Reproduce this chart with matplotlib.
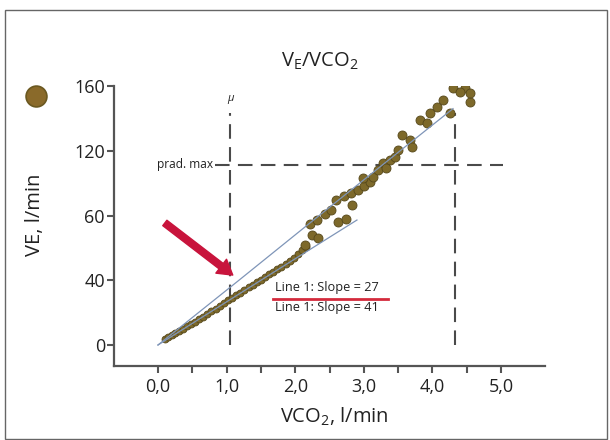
import matplotlib
matplotlib.use("Agg")
import matplotlib.pyplot as plt
from matplotlib.lines import Line2D
from matplotlib.patches import Rectangle
import numpy as np

plt.rcParams['font.family'] = ['Open Sans', 'DejaVu Sans']
plt.rcParams['mathtext.fontset'] = 'custom'
plt.rcParams['mathtext.rm'] = 'Open Sans'
plt.rcParams['mathtext.it'] = 'Open Sans:italic'
plt.rcParams['mathtext.default'] = 'regular'

# measured points, VCO2 (l/min) and VE (l/min)
vco2 = [0.10, 0.15, 0.20, 0.25, 0.30, 0.36, 0.42, 0.48, 0.54, 0.60, 0.66, 0.72,
        0.78, 0.84, 0.90, 0.96, 1.02, 1.08, 1.14, 1.20, 1.26, 1.32, 1.38,
        1.44, 1.50, 1.56, 1.62, 1.68, 1.74, 1.80, 1.86, 1.92, 1.98, 2.04, 2.10, 2.16,
        2.14, 2.24, 2.33, 2.22, 2.32, 2.43, 2.52, 2.62, 2.74, 2.59, 2.71, 2.81,
        2.92, 3.00, 3.09, 2.83,
        2.99, 3.13, 3.28, 3.21, 3.38, 3.45, 3.56, 3.67, 3.70, 3.82, 3.92, 3.97,
        4.07, 3.50, 3.32,
        4.15, 4.26, 4.30, 4.48, 4.55, 4.55, 4.40]
ve = [3.6, 4.8, 6.0, 7.2, 8.4, 10.0, 11.6, 13.2, 14.4, 16.0, 17.6, 19.2,
      20.8, 22.4, 24.0, 26.0, 27.6, 29.2, 30.8, 32.4, 34.0, 35.6, 37.2,
      38.8, 40.2, 41.0, 41.8, 42.6, 43.4, 44.2, 45.0, 46.0, 46.8, 48.0, 49.2, 50.4,
      50.9, 54.0, 53.0, 57.4, 58.6, 61.2, 64.8, 58.0, 59.0, 74.4, 78.0, 81.0,
      83.4, 87.6, 91.2, 69.6,
      94.8, 95.4, 108.6, 102.0, 111.6, 114.0, 129.6, 126.8, 122.4, 138.8, 137.2, 143.2,
      147.2, 120.4, 103.8,
      151.2, 143.2, 158.8, 158.8, 150.0, 155.6, 156.4]
n_dense = 36  # first part of the curve is a tight band

# regression lines (vertices)
fit1_x = [0, 1.18, 2.35, 3.53, 4.3]
fit1_ve = [0, 40, 60, 120, 146]
fit2_x = [0, 1.5, 2.9]
fit2_ve = [0, 40, 58.6]

# thresholds
mu_x = 1.05
max_x = 4.33
vline_top = 143.2
prad_max = 106.8

yticks = [0, 40, 60, 120, 160]
xticks = [0, 0.5, 1, 1.5, 2, 2.5, 3, 3.5, 4, 4.5, 5]
xticklabels = ['0,0', '', '1,0', '', '2,0', '', '3,0', '', '4,0', '', '5,0']

# y axis of the original has evenly spaced ticks 0,40,60,120,160
knots_v = [0, 40, 60, 120, 160]
knots_p = [0, 1, 2, 3, 4]


def fwd(v):
    v = np.asarray(v, dtype=float)
    p = np.interp(v, knots_v, knots_p)
    p = np.where(v < 0, v / 40.0, p)
    p = np.where(v > 160, 4 + (v - 160) / 40.0, p)
    return p


def inv(p):
    p = np.asarray(p, dtype=float)
    v = np.interp(p, knots_p, knots_v)
    v = np.where(p < 0, p * 40.0, v)
    v = np.where(p > 4, 160 + (p - 4) * 40.0, v)
    return v


W, H = 610, 440
fig = plt.figure(figsize=(6.1, 4.4), dpi=100)
ax = fig.add_axes([114 / W, 1 - 366 / H, 431 / W, 280 / H])
ax.set_yscale('function', functions=(fwd, inv))

dot = '#7d692a'
edge = '#56481b'
ax.plot(vco2[:n_dense], ve[:n_dense], 'o', ms=5, mfc=dot, mec=edge, mew=0.6, zorder=3)
ax.plot(vco2[n_dense:], ve[n_dense:], 'o', ms=6.5, mfc=dot, mec=edge, mew=0.6, zorder=3)
ax.plot(fit1_x, fit1_ve, color='#7f95b8', lw=0.9, zorder=4)
ax.plot(fit2_x, fit2_ve, color='#7f95b8', lw=0.9, zorder=4)

dash_c = '#4a4a4a'
ax.plot([mu_x, mu_x], [0, vline_top], color=dash_c, lw=1.5, dashes=(7, 4), zorder=2)
ax.plot([max_x, max_x], [0, vline_top], color=dash_c, lw=1.5, dashes=(7, 4), zorder=2)
ax.plot([0.83, 5.03], [prad_max, prad_max], color=dash_c, lw=1.5, dashes=(7, 4), zorder=2)
ax.text(0.80, prad_max, 'prad. max', ha='right', va='center', fontsize=8.6, color='#222222')
ax.text(mu_x, 152, 'μ', ha='center', va='center', fontsize=8, style='italic', color='#222222')

ax.text(1.71, 35.8, 'Line 1: Slope = 27', ha='left', va='center', fontsize=9.2, color='#222222')
ax.text(1.71, 22.9, 'Line 1: Slope = 41', ha='left', va='center', fontsize=9.2, color='#222222')
ax.plot([1.68, 3.35], [28.4, 28.4], color='#d42a3c', lw=2)

ax.annotate('', xy=(1.09, 41.6), xytext=(0.10, 57.7),
            arrowprops=dict(arrowstyle='simple,head_length=0.75,head_width=0.9,tail_width=0.35',
                            mutation_scale=14, color='#c8143c', shrinkA=0, shrinkB=0))

ax.set_xlim(-0.641, 5.641)
ax.set_ylim(-12.97, 160)
ax.set_xticks(xticks)
ax.set_xticklabels(xticklabels)
ax.set_yticks(yticks)
ax.set_yticklabels([str(t) for t in yticks])
ax.yaxis.set_minor_locator(matplotlib.ticker.NullLocator())

for s in ['top', 'right']:
    ax.spines[s].set_visible(False)
for s in ['left', 'bottom']:
    ax.spines[s].set_color('#555555')
    ax.spines[s].set_linewidth(1.6)
ax.tick_params(axis='both', colors='#555555', width=1.5, length=5, labelcolor='#222222', labelsize=13)
ax.tick_params(axis='y', pad=1.5)
ax.tick_params(axis='x', pad=4)

fig.text(320 / W, 1 - 67 / H, 'V$_E$/VCO$_2$', ha='center', va='baseline', fontsize=14.5, color='#222222')
fig.text(334 / W, 1 - 423 / H, 'VCO$_2$, l/min', ha='center', va='baseline', fontsize=14.5, color='#222222')
fig.text(35 / W, 1 - 215 / H, 'VE, l/min', ha='center', va='center', rotation=90, fontsize=14.5, color='#222222')

fig.add_artist(Line2D([36 / W], [1 - 96 / H], marker='o', ms=15, mfc='#8a6a2a', mec='#6a5820', mew=1.2))
fig.add_artist(Rectangle((5 / W, 1 / H), 602 / W, 429 / H, fill=False, ec='#666666', lw=1))

fig.savefig('out.png', dpi=100)
